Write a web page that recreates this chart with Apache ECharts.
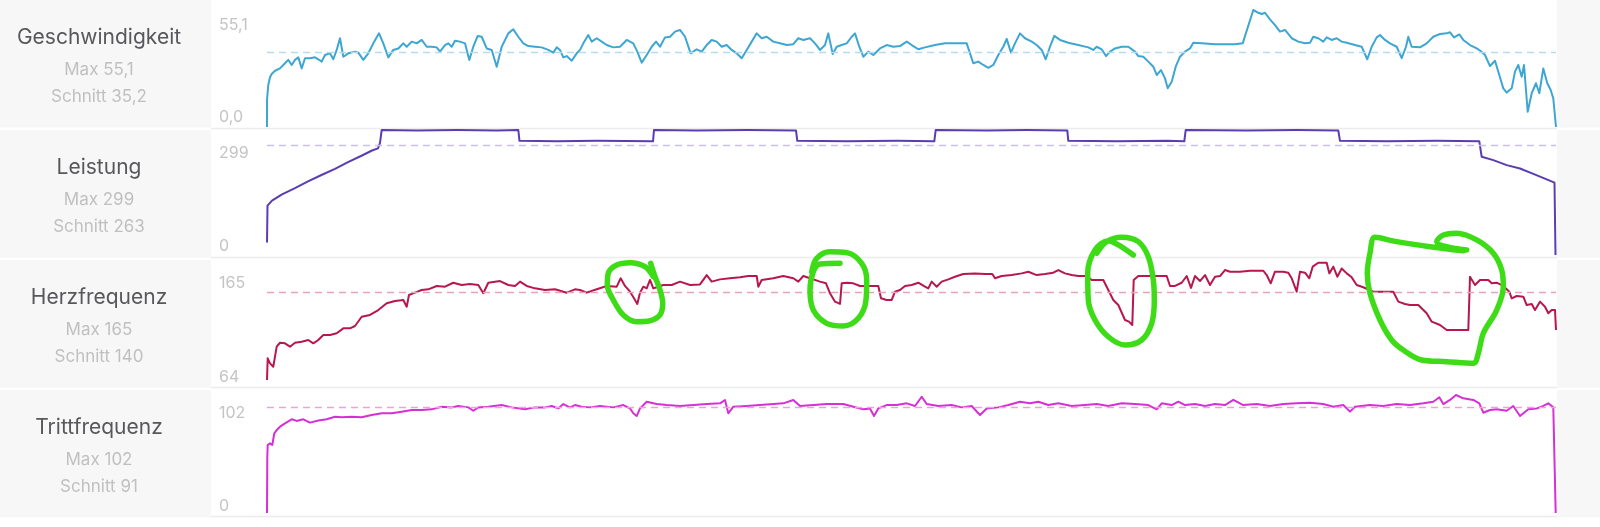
<!DOCTYPE html>
<html>
<head>
<meta charset="utf-8">
<script src="https://cdn.jsdelivr.net/npm/echarts@6/dist/echarts.min.js"></script>
<style>
html,body{margin:0;padding:0;background:#fff;}
#c{width:1600px;height:527px;}
</style>
</head>
<body>
<div id="c"></div>
<script>
// ---- metric names and summary texts ----
const metricNames = ['Geschwindigkeit', 'Leistung', 'Herzfrequenz', 'Trittfrequenz'];
const maxLabels = ['Max 55,1', 'Max 299', 'Max 165', 'Max 102'];
const avgLabels = ['Schnitt 35,2', 'Schnitt 263', 'Schnitt 140', 'Schnitt 91'];

// ---- axis ranges, tick labels, averages ----
const axisMin = [0, 0, 64, 0];
const axisMax = [55.1, 299, 165, 102];
const tickLabels = [['0,0', '55,1'], ['0', '299'], ['64', '165'], ['0', '102']];
const averages = [35.2, 263, 140, 91];
const tMax = 1289; // time samples along the ride

// ---- series: [t, value] ----
const speed = [[0,0],[0,12.7],[1.3,19.8],[3,23.4],[4.7,25.0],[8,26.5],[13,27.6],[18,30.0],[21.3,31.6],[24.7,29.2],[28,31.6],[31.3,32.8],[34.7,27.6],[38,32.4],[43,32.4],[48,32.8],[51.3,31.9],[54.7,30.8],[58,33.9],[63,34.7],[66.3,31.9],[69.7,36.3],[73,41.8],[76.3,33.1],[81.3,34.7],[88,35.5],[91.3,35.0],[96.3,31.6],[101.3,34.7],[106.3,39.4],[112,44.1],[116.3,39.4],[121.3,32.8],[126.3,36.3],[131.3,37.0],[136.3,39.4],[139.7,37.8],[144.7,40.2],[149.7,39.4],[154.7,41.0],[159.7,37.8],[164.7,37.8],[169.7,37.5],[173,35.5],[178,38.6],[181.3,39.4],[184.7,37.8],[188,40.6],[193,40.2],[198,39.4],[202.3,31.6],[206.3,37.8],[210.7,42.9],[214.7,42.5],[219.7,37.0],[224.7,36.3],[229.7,28.4],[234.7,37.8],[241.3,44.1],[246.3,46.0],[251.3,42.5],[256.3,39.4],[261.3,38.1],[268,37.8],[274.7,37.5],[281.3,36.3],[286.3,35.0],[289.7,37.5],[293,36.3],[296.3,32.8],[299.7,33.4],[304.7,31.2],[309.7,34.7],[313,36.3],[316.3,39.4],[321.3,43.3],[324.7,40.2],[329.7,41.8],[334.7,40.2],[339.7,38.6],[346.3,37.5],[353,37.8],[359.7,41.0],[366.3,39.4],[370.3,35.5],[374.7,30.3],[379.7,33.9],[384.7,37.8],[389,40.2],[393,37.8],[398,42.2],[403,42.5],[408,44.9],[413,45.7],[418,42.5],[423.7,34.7],[429.7,36.6],[434.7,35.5],[439.7,38.6],[444.7,41.0],[449.7,40.2],[454.7,37.8],[459.7,38.6],[464.7,36.3],[469.7,34.7],[474.7,32.4],[479.7,36.3],[484.7,40.2],[489.7,44.1],[494.7,41.8],[499.7,42.5],[506.3,40.2],[513,39.4],[519.7,38.6],[526.3,39.0],[531.3,41.8],[536.3,41.0],[543,41.8],[548,39.4],[553,36.3],[558,38.6],[561.3,44.1],[565.7,34.4],[569.7,37.8],[574.7,38.6],[579.7,39.4],[584.7,42.5],[588,44.1],[592.3,37.8],[596.3,33.1],[601.3,35.5],[606.3,33.9],[613,37.0],[619.7,38.6],[626.3,37.8],[633,38.1],[639.7,40.2],[644.7,38.6],[651.3,36.6],[658,37.5],[668,38.6],[678,39.4],[688,39.4],[699.7,39.4],[703,34.7],[706.3,30.0],[711.3,30.8],[716.3,29.2],[721.3,27.9],[726.3,29.2],[731.3,33.9],[736.3,37.8],[739.7,41.5],[744,35.0],[748,39.4],[753,44.1],[758,41.8],[764.7,40.2],[769.7,38.6],[774.7,36.3],[778.7,31.9],[783,37.8],[787.3,42.9],[793,41.0],[801.3,39.7],[811.3,38.6],[821.3,37.5],[826.3,36.3],[829.7,37.8],[834.7,36.6],[839,33.4],[843,35.5],[848,37.0],[854.7,37.8],[861.3,37.8],[868,35.5],[871.3,33.4],[876.3,33.1],[881.3,30.8],[886.3,28.4],[889.7,24.5],[894,26.8],[898,22.9],[900.7,18.2],[904.7,21.3],[908.7,28.4],[913,33.1],[918,35.5],[923,37.0],[926.3,39.7],[934.7,39.4],[948,39.0],[968,39.0],[975.7,39.4],[986.3,55.1],[991.3,53.8],[994.7,53.2],[998,53.8],[1003,50.7],[1008,48.0],[1013,44.9],[1018,45.7],[1024.7,41.8],[1031.3,40.2],[1038,39.4],[1043,39.7],[1046.3,42.5],[1051.3,41.8],[1056.3,40.2],[1059.7,42.2],[1064.7,41.0],[1069.7,41.8],[1074.7,40.2],[1079.7,39.7],[1088,38.6],[1094.7,37.8],[1100.3,31.9],[1104.7,37.8],[1109.7,42.2],[1113,43.3],[1118,41.0],[1123,39.4],[1129.7,37.8],[1134.7,32.4],[1139,37.8],[1141.3,42.5],[1144.7,37.8],[1153,37.5],[1159.7,39.4],[1166.3,42.5],[1173,43.8],[1179.7,44.1],[1183,44.6],[1187,42.2],[1192.3,43.6],[1196.3,41.0],[1203,38.6],[1209.7,37.0],[1213.7,35.8],[1218,33.9],[1223,28.7],[1228,31.2],[1232.3,24.5],[1236.3,18.2],[1239.7,16.2],[1244.7,18.2],[1248,26.1],[1251.3,29.2],[1254.7,23.7],[1257,29.2],[1260.7,7.2],[1264.7,15.9],[1269,20.6],[1272.3,15.9],[1276.3,27.6],[1280.3,20.6],[1283.7,17.4],[1286.3,13.5],[1288,12.7],[1289,0]];

const power = [[0,30],[0.5,118],[5,130],[15,145],[28,160],[41,176],[55,192],[68,206],[81,222],[95,238],[105,250],[111,255],[113,268],[114.7,299],[150,298],[190,299],[230,298],[251.3,299],[252.5,273],[290,272],[330,273],[386,272],[387,299],[430,298],[480,299],[529,298],[530.3,273],[580,272],[630,273],[667.3,272],[668.7,299],[720,298],[760,299],[800.3,298],[801.3,273],[850,272],[900,273],[917.3,272],[918.7,299],[980,298],[1030,299],[1071.3,298],[1073,273],[1120,272],[1170,273],[1212.3,272],[1214.7,235],[1226.3,227],[1239.7,215],[1253,207],[1266.3,194],[1279.7,181],[1287.5,173],[1288.5,0]];

const heartRate = [[0,66.5],[0.7,84.6],[3,80.4],[6.3,77.6],[9.7,94.3],[13,97.6],[18,97.1],[23,94.3],[28,97.6],[34.7,98.5],[41.3,99.9],[46.3,97.1],[51.3,99.9],[56.3,104.1],[63,104.1],[69.7,105.5],[76.3,109.6],[83,109.6],[88,111.6],[94.7,119.3],[103,120.8],[111.3,124.9],[119.7,130.5],[128,132.5],[136.3,133.3],[139.7,127.7],[142,137.5],[148,139.4],[154.7,141.6],[161.3,142.2],[169.7,145],[178,144.4],[186.3,147.7],[194.7,145.8],[203,146.6],[211.3,145.8],[216.3,138.9],[221.3,147.7],[233,149.1],[241.3,145.8],[248,145],[253,148.6],[259.7,145],[268,143],[278,141.6],[288,142.2],[299.7,139.4],[308,142.2],[313,141.6],[319.7,139.4],[329.7,142.2],[339.7,145],[349.7,144.4],[353.7,151.4],[358,145],[363,140.2],[367,134.7],[370.3,130],[373,139.4],[376.3,144.4],[379.7,143],[383,150],[386.3,143],[391.3,144.4],[396.3,145.8],[404.7,145.8],[413,148.6],[423,145.8],[433,146.3],[439.7,154.1],[444.7,148.6],[453,150.5],[463,151.4],[473,152.2],[481.3,153.3],[489.7,153.3],[491.3,144.4],[494.7,150],[506.3,151.4],[516.3,153.3],[526.3,151.4],[531.3,148.6],[536.3,153.3],[543,151.4],[553,148.6],[559,147.2],[563,138.9],[568,131.9],[573,130],[574.7,147.2],[579.7,147.7],[586.3,147.2],[593,145],[603,145],[611.3,145],[614,134.7],[619.7,133.3],[624.7,133.3],[628,140.2],[633,141.6],[638,145],[644.7,145.8],[651.3,147.7],[658,144.4],[661.3,143],[664.7,148.6],[669.7,144.4],[674.7,148.6],[681.3,150.5],[688,152.7],[696.3,155],[708,155.5],[718,155],[725.3,155],[728,151.4],[734.7,153.3],[744.7,154.1],[754.7,155.5],[761.3,156.9],[769.7,154.1],[778,155],[786.3,156.1],[791.3,158.3],[798,155.5],[804.7,154.1],[811.3,153.3],[819.7,153.3],[824.7,150],[836.3,150],[841.3,141.6],[846.3,133.3],[851.3,129.1],[858,116.6],[862,115.2],[865.3,112.4],[866.7,150],[871.3,153.3],[878,153.3],[888,153.3],[899.7,153.3],[903,145],[908,145],[914.7,147.7],[919.7,153.3],[924,143.4],[928,153.3],[933,149.1],[938,154.1],[943,145.8],[948,152.7],[953,153.3],[958,158.3],[963,156.9],[973,156.9],[983,157.7],[996.3,157.7],[999.7,154.1],[1003.7,147.2],[1008,156.9],[1016.3,156.9],[1021.3,156.1],[1024.7,151.4],[1029.7,140.2],[1033,156.9],[1038,156.1],[1042.3,151.4],[1045.7,161.1],[1051.3,164.4],[1059.7,164.4],[1062.3,155.5],[1066.3,161.1],[1070.3,152.7],[1074.7,159.6],[1079.7,155.5],[1084.7,152.2],[1089.7,145.8],[1096.3,143.9],[1106.3,140.2],[1126.3,140.2],[1131.3,131.9],[1138,130],[1143,129.1],[1151.3,129.1],[1159.7,122.2],[1164.7,115.2],[1173,112.4],[1179.7,108.2],[1193,108.2],[1201.3,108.2],[1203,152.7],[1208,145.8],[1213,150],[1221.3,150],[1224.7,147.2],[1229.7,147.7],[1236.3,145],[1242.3,140.2],[1244.7,134.7],[1249.7,136.6],[1256.3,136],[1259.7,129.1],[1264.7,130],[1268,124.9],[1273,131.9],[1278,127.7],[1281.3,122.2],[1284.7,124.9],[1288,124.9],[1289,108.2]];

const cadence = [[0,0],[0.3,48.7],[0.7,58.8],[3,60.2],[5.3,58.8],[7.3,68.9],[9.7,71.7],[13,74.6],[18,77.5],[24.7,81],[29.7,79.6],[36.3,81],[43,78.1],[51.3,79.9],[59.7,81],[68,83.2],[74.7,82.7],[84.7,83.2],[94.7,82.7],[104.7,84.7],[114.7,86.2],[124.7,86.2],[134.7,87.6],[144.7,89],[154.7,89],[164.7,89.6],[174.7,91.9],[184.7,91.3],[191.3,92.5],[201.3,91.3],[206.3,88.4],[211.3,91.3],[221.3,91.9],[234.7,93.3],[244.7,91.3],[258,89.6],[268,91.3],[278,91.3],[284.7,92.5],[291.3,90.4],[296.3,94.2],[303,91.3],[308,93.3],[314.7,91.9],[323,91.3],[333,92.5],[346.3,91.3],[356.3,93.3],[363,90.4],[366.3,86.2],[369.7,83.8],[373,90.4],[379.7,96.2],[389.7,94.2],[399.7,93.3],[413,92.5],[426.3,93.3],[439.7,94.2],[453,94.8],[458,97.7],[461.3,86.2],[466.3,91.9],[479.7,92.5],[493,93.3],[506.3,94.2],[516.3,94.8],[526.3,97.7],[533,92.5],[546.3,93.3],[559.7,94.2],[576.3,94.2],[586.3,91.9],[596.3,89.6],[603,90.4],[607,83.8],[611.3,90.4],[619.7,93.3],[629.7,93.3],[639.7,94.8],[648,92.5],[654.7,100.5],[659.7,94.2],[671.3,92.5],[684.7,93.3],[694.7,91.3],[704.7,92.5],[713,84.7],[719.7,90.4],[731.3,91.3],[741.3,93.3],[753,96.2],[763,94.8],[771.3,96.2],[781.3,93.3],[791.3,94.8],[804.7,92.5],[818,93.3],[829.7,94.2],[841.3,92.5],[854.7,94.8],[868,94.2],[881.3,93.3],[889.7,89.6],[894.7,94.8],[904.7,93.3],[911.3,96.2],[918,93.3],[928,94.2],[938,92.5],[948,94.2],[958,93.3],[966.3,97.7],[976.3,93.3],[989.7,94.2],[1003,92.5],[1016.3,94.2],[1029.7,94.8],[1043,95.4],[1056.3,94.2],[1066.3,91.9],[1076.3,93.3],[1083,87.6],[1088,91.9],[1103,93.3],[1116.3,92.5],[1129.7,94.2],[1143,93.3],[1156.3,94.8],[1166.3,96.2],[1172.3,100],[1176.3,94.2],[1183,97.7],[1189,102],[1196.3,99.1],[1206.3,97.7],[1212.3,94.8],[1216.3,86.7],[1223,89],[1229.7,89.6],[1239.7,88.4],[1246.3,92.5],[1253,83.8],[1261.3,89.6],[1269.7,90.4],[1276.3,92.5],[1281.3,94.8],[1286.3,91.3],[1288,90.4],[1288.7,0]];

// ---- hand-drawn green marks on the heart-rate panel: [t, bpm] ----
const markLoop1 = [[383.7,163.9],[384.7,161.1],[388,152.7],[393,141.6],[395.7,130.5],[393,120.8],[383,116],[369.7,115.2],[356.3,120.8],[346.3,133.3],[340.3,145.8],[341.3,155.6],[349.7,162.5],[363,164.4],[378,161.1],[386.3,152.7]];
const markLoop2 = [[573,163.9],[553,163.3],[546.3,156.9],[543,141.6],[546.3,124.9],[559.7,113.8],[576.3,111.6],[591.3,118],[599,133.3],[599.7,150],[594.7,163.9],[579.7,172.8],[563,173.6],[549.7,168.1],[544.7,156.9]];
const markLoop3 = [[866.3,170.8],[851.3,179.2],[841.3,182.8],[828,175],[820.7,155.6],[821.3,133.3],[828,116.6],[841.3,102.6],[858,95.7],[874.7,99.9],[884.7,113.8],[887.3,133.3],[886.3,150],[881.3,169.4],[871.3,182],[854.7,185.6],[839.7,182],[829.7,172.3]];
const markLoop4 = [[1199.7,175],[1179.7,177.8],[1169.7,182],[1176.3,187.5],[1189.7,189],[1209.7,183.4],[1226.3,172.3],[1234.7,158.3],[1236.3,144.4],[1229.7,124.9],[1216.3,105.5],[1211.3,88.8],[1206.3,80.4],[1179.7,81.8],[1154.7,83.2],[1136.3,91.5],[1124.7,99.9],[1113,116.6],[1103,138.9],[1100.3,155.6],[1103,172.3],[1108,185.6],[1129.7,182],[1163,177.8],[1196.3,174.4]];

// ---- style ----
const lineColors = ['#3ea6d2', '#5b3cb2', '#b8164e', '#d62fd6'];
const avgColors = ['#b5dcee', '#cbc0e8', '#e6a3bb', '#efa3d4'];
const FONT = 'Inter, "Noto Sans", sans-serif';

// ---- layout ----
const gridTop = [10, 130, 262, 395];
const gridBottom = [127, 255, 383, 513];
const tickTopY = [25, 153, 283, 413];
const tickBotY = [117, 246, 377, 506];
const rowPitch = 130;
const plotLeft = 267, plotRight = 44;

const chart = echarts.init(document.getElementById('c'), null, {renderer: 'canvas'});

const seriesData = [speed, power, heartRate, cadence];
const grids = [], xAxes = [], yAxes = [], series = [];
for (let i = 0; i < 4; i++) {
  grids.push({left: plotLeft, right: plotRight, top: gridTop[i], height: gridBottom[i] - gridTop[i]});
  xAxes.push({gridIndex: i, type: 'value', min: 0, max: tMax, show: false});
  const sT = tickTopY[i] - gridTop[i];
  const sB = gridBottom[i] - tickBotY[i];
  const mx = axisMax[i], mn = axisMin[i], lbl = tickLabels[i];
  const baseRich = {fontSize: 16, color: '#c4c4c4', fontFamily: FONT};
  yAxes.push({
    gridIndex: i, type: 'value', min: mn, max: mx,
    axisLine: {show: false}, axisTick: {show: false}, splitLine: {show: false},
    axisLabel: {
      customValues: [mn, mx],
      margin: plotLeft - 219,
      align: 'left',
      verticalAlign: 'middle',
      fontSize: 16, color: '#c4c4c4', fontFamily: FONT,
      formatter: v => (v === mx ? '{t|' + lbl[1] + '}' : '{b|' + lbl[0] + '}'),
      rich: {
        t: Object.assign({padding: [2 * sT, 0, 0, 0]}, baseRich),
        b: Object.assign({padding: [0, 0, 2 * sB, 0]}, baseRich)
      }
    }
  });
  series.push({
    type: 'line', xAxisIndex: i, yAxisIndex: i, data: seriesData[i],
    showSymbol: false, symbol: 'none', animation: false,
    lineStyle: {color: lineColors[i], width: 2, join: 'round'},
    markLine: {
      silent: true, symbol: 'none', animation: false,
      label: {show: false},
      lineStyle: {color: avgColors[i], type: [7, 5], width: 1.3},
      data: [{yAxis: averages[i]}]
    }
  });
}
[markLoop1, markLoop2, markLoop3, markLoop4].forEach(loop => {
  series.push({
    type: 'line', xAxisIndex: 2, yAxisIndex: 2, data: loop,
    showSymbol: false, symbol: 'none', smooth: 0.35, clip: false, animation: false, z: 10,
    lineStyle: {color: '#3ddc17', width: 5.5, cap: 'round', join: 'round'}
  });
});

// background panels, separators and left labels
const graphics = [];
for (let i = 0; i < 4; i++) {
  const top = i * rowPitch;
  graphics.push({type: 'rect', z: -10, silent: true, shape: {x: 0, y: top, width: 211, height: 127.5}, style: {fill: '#f7f7f7'}});
  graphics.push({type: 'rect', z: -10, silent: true, shape: {x: 1557, y: top, width: 43, height: 127.5}, style: {fill: '#f7f7f7'}});
  graphics.push({type: 'text', silent: true, x: 99, y: 38 + top, style: {text: metricNames[i], font: '400 21px ' + FONT, fill: '#58585c', align: 'center', verticalAlign: 'middle'}});
  graphics.push({type: 'text', silent: true, x: 99, y: 70 + top, style: {text: maxLabels[i], font: '400 17px ' + FONT, fill: '#c0c0c0', align: 'center', verticalAlign: 'middle'}});
  graphics.push({type: 'text', silent: true, x: 99, y: 97 + top, style: {text: avgLabels[i], font: '400 17px ' + FONT, fill: '#c0c0c0', align: 'center', verticalAlign: 'middle'}});
}
[128.5, 257.5, 387.5, 516.5].forEach(y => {
  graphics.push({type: 'line', z: -9, silent: true, shape: {x1: 211, y1: y, x2: 1557, y2: y}, style: {stroke: '#ececec', lineWidth: 1.5}});
});

chart.setOption({
  animation: false,
  backgroundColor: '#ffffff',
  grid: grids, xAxis: xAxes, yAxis: yAxes, series: series,
  graphic: graphics
});
</script>
</body>
</html>
